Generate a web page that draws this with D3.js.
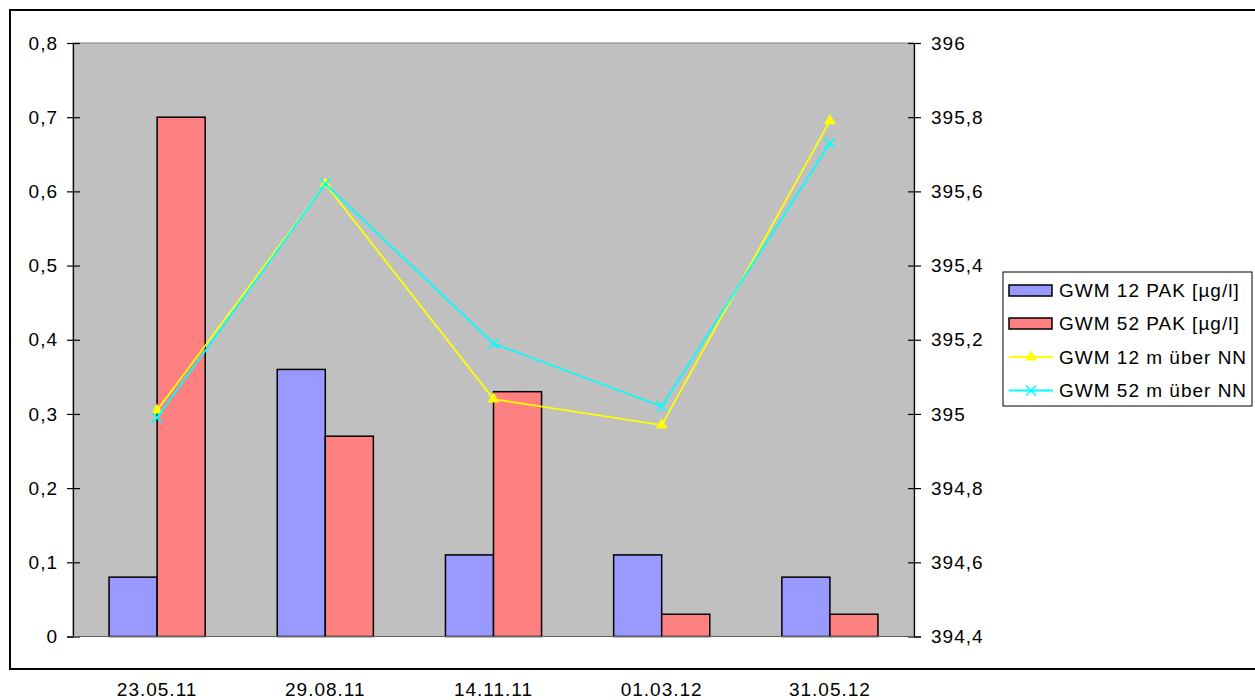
<!DOCTYPE html>
<html><head><meta charset="utf-8">
<script src="https://cdn.jsdelivr.net/npm/d3@7"></script>
<style>
body{margin:0;background:#fff;}
svg text{font-family:"Liberation Sans",Arial,sans-serif;font-size:19px;letter-spacing:1px;fill:#000;}
</style></head><body>
<svg id="chart" width="1255" height="700"></svg>
<script>
const categories = ["23.05.11","29.08.11","14.11.11","01.03.12","31.05.12"];
const gwm12Pak = [0.08,0.36,0.11,0.11,0.08];
const gwm52Pak = [0.70,0.27,0.33,0.03,0.03];
const gwm12NN = [395.01,395.62,395.04,394.97,395.79];
const gwm52NN = [394.99,395.62,395.19,395.02,395.73];
const leftTicks = [0,0.1,0.2,0.3,0.4,0.5,0.6,0.7,0.8];
const rightTicks = [394.4,394.6,394.8,395,395.2,395.4,395.6,395.8,396];
const barSeries = ["GWM 12 PAK [µg/l]","GWM 52 PAK [µg/l]"];
const lineSeries = ["GWM 12 m über NN","GWM 52 m über NN"];

const svg = d3.select("#chart");
const L=73, R=914, T=43, B=636.5;
const fmt = d => String(+d.toFixed(2)).replace(".", ",");

// outer border
svg.append("rect").attr("x",10).attr("y",10).attr("width",1260).attr("height",659)
  .attr("fill","#fff").attr("stroke","#000").attr("stroke-width",2);

const x = d3.scaleBand().domain(categories).range([L,R]).padding(0);
const xs = d3.scaleBand().domain(barSeries).range([0,x.bandwidth()]).paddingInner(0).paddingOuter(0.75);
const yL = d3.scaleLinear().domain([0,0.8]).range([B,T]);
const yR = d3.scaleLinear().domain([394.4,396]).range([B,T]);

// plot area
svg.append("rect").attr("x",L).attr("y",T).attr("width",R-L).attr("height",B-T)
  .attr("fill","#c0c0c0").attr("stroke","#808080").attr("stroke-width",1);

// bars
const barData = [gwm12Pak, gwm52Pak];
const barColors = ["#9999ff","#ff8080"];
barSeries.forEach((s,si)=>{
  svg.append("g").selectAll("rect").data(categories).join("rect")
    .attr("x",c=>x(c)+xs(s)).attr("width",xs.bandwidth())
    .attr("y",(c,i)=>yL(barData[si][i])).attr("height",(c,i)=>yL(0)-yL(barData[si][i]))
    .attr("fill",barColors[si]).attr("stroke","#000").attr("stroke-width",1.5);
});

// axes
const axL = svg.append("g").attr("transform",`translate(${L},0)`)
  .call(d3.axisLeft(yL).tickValues(leftTicks).tickFormat(fmt).tickSize(6).tickPadding(9));
const axR = svg.append("g").attr("transform",`translate(${R},0)`)
  .call(d3.axisRight(yR).tickValues(rightTicks).tickFormat(fmt).tickSize(7).tickPadding(10));
[axL,axR].forEach(a=>{
  a.select(".domain").attr("stroke","#000").attr("stroke-width",1.2);
  a.selectAll(".tick line").attr("stroke","#000").attr("stroke-width",1.2);
  a.attr("font-size",null).attr("font-family",null);
});
axL.selectAll(".tick line").attr("x1",7);
axR.selectAll(".tick line").attr("x1",-6);
svg.append("line").attr("x1",L).attr("x2",R).attr("y1",yL(0)).attr("y2",yL(0))
  .attr("stroke","#606060").attr("stroke-width",1);

// x labels
svg.append("g").selectAll("text").data(categories).join("text")
  .attr("x",c=>x(c)+x.bandwidth()/2).attr("y",696).attr("text-anchor","middle").text(c=>c);

// lines
const lineData = [gwm12NN, gwm52NN];
const lineColors = ["#ffff00","#00ffff"];
const tri = d3.symbol().type(d3.symbolTriangle).size(60);
function drawMarker(g, si, cx, cy){
  if(si===0){
    g.append("path").attr("d",tri()).attr("transform",`translate(${cx},${cy})`).attr("fill",lineColors[0]);
  } else {
    const r=5;
    g.append("path").attr("d",`M${cx-r},${cy-r}L${cx+r},${cy+r}M${cx-r},${cy+r}L${cx+r},${cy-r}`)
      .attr("stroke",lineColors[1]).attr("stroke-width",1.6).attr("fill","none");
  }
}
lineSeries.forEach((s,si)=>{
  const g = svg.append("g");
  const line = d3.line().x((v,i)=>x(categories[i])+x.bandwidth()/2).y(v=>yR(v));
  g.append("path").datum(lineData[si]).attr("d",line).attr("fill","none")
    .attr("stroke",lineColors[si]).attr("stroke-width",1.8);
  lineData[si].forEach((v,i)=>drawMarker(g,si,x(categories[i])+x.bandwidth()/2,yR(v)));
});

// legend
const lg = svg.append("g");
lg.append("rect").attr("x",1003).attr("y",272).attr("width",249).attr("height",134)
  .attr("fill","#fff").attr("stroke","#000").attr("stroke-width",1);
const rowY = [290.5,323.5,357,390.5];
barSeries.forEach((s,si)=>{
  lg.append("rect").attr("x",1009).attr("y",rowY[si]-5.5).attr("width",43).attr("height",11)
    .attr("fill",barColors[si]).attr("stroke","#000").attr("stroke-width",1.5);
  lg.append("text").attr("x",1059).attr("y",rowY[si]).attr("dy","0.36em").text(s);
});
lineSeries.forEach((s,si)=>{
  const yy = rowY[si+2];
  lg.append("line").attr("x1",1009).attr("x2",1053).attr("y1",yy).attr("y2",yy)
    .attr("stroke",lineColors[si]).attr("stroke-width",1.8);
  drawMarker(lg,si,1031,yy);
  lg.append("text").attr("x",1059).attr("y",yy).attr("dy","0.36em").text(s);
});
</script>
</body></html>
